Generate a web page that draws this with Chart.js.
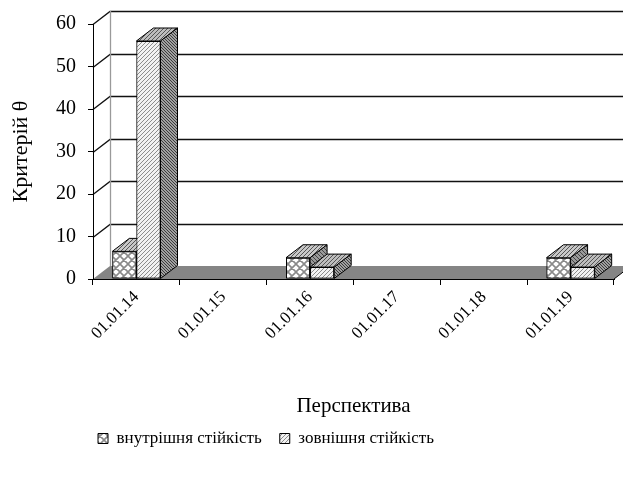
<!DOCTYPE html>
<html>
<head>
<meta charset="utf-8">
<script src="https://cdn.jsdelivr.net/npm/chart.js@4.4.1/dist/chart.umd.min.js"></script>
<style>
  html, body { margin: 0; padding: 0; background: #fff; }
  #wrap { width: 623px; height: 495px; }
</style>
</head>
<body>
<div id="wrap"><canvas id="chart"></canvas></div>
<script>
const categories = ['01.01.14', '01.01.15', '01.01.16', '01.01.17', '01.01.18', '01.01.19'];
const innerValues = [6.5, 0, 5, 0, 0, 5];
const outerValues = [56, 0, 2.8, 0, 0, 2.8];
const yTicks = [0, 10, 20, 30, 40, 50, 60];
const seriesNames = ['внутрішня стійкість', 'зовнішня стійкість'];

const serif = "'Liberation Serif', 'Times New Roman', serif";
Chart.defaults.font.family = serif;
Chart.defaults.color = '#000';
const DX = 17, DY = -13; // depth offset of the 3d box
const PAD_BOTTOM = 38;

function pattern(size, bg, stroke, width, dirs) {
  const c = document.createElement('canvas');
  c.width = c.height = size;
  const g = c.getContext('2d');
  g.fillStyle = bg;
  g.fillRect(0, 0, size, size);
  g.strokeStyle = stroke;
  g.lineWidth = width;
  g.beginPath();
  for (const k of [-size, 0, size]) {
    if (dirs.includes('/')) { g.moveTo(k, size); g.lineTo(k + size, 0); }
    if (dirs.includes('\\')) { g.moveTo(k, 0); g.lineTo(k + size, size); }
  }
  g.stroke();
  return g.createPattern(c, 'repeat');
}

const faces = [
  { // внутрішня
    front: pattern(8, '#ffffff', '#8a8a8a', 1.6, '/\\'),
    top: pattern(4, '#c8c8c8', '#555555', 1, '/'),
    side: pattern(4, '#9a9a9a', '#444444', 1, '\\')
  },
  { // зовнішня
    front: pattern(4, '#f2f2f2', '#8c8c8c', 1, '/'),
    top: pattern(4, '#bdbdbd', '#555555', 1, '/'),
    side: pattern(3, '#a0a0a0', '#3c3c3c', 1, '\\')
  }
];

function poly(ctx, pts, fill) {
  ctx.beginPath();
  ctx.moveTo(pts[0][0], pts[0][1]);
  for (let i = 1; i < pts.length; i++) ctx.lineTo(pts[i][0], pts[i][1]);
  ctx.closePath();
  ctx.fillStyle = fill;
  ctx.fill();
  ctx.strokeStyle = '#000';
  ctx.lineWidth = 1;
  ctx.stroke();
}

const walls = {
  id: 'walls',
  afterLayout(chart) {
    // legend sits a bit left of the page centre
    if (chart.legend) { chart.legend.left -= 41; chart.legend.right -= 41; }
  },
  beforeDraw(chart) {
    const { ctx, chartArea: a, scales: { y } } = chart;
    ctx.save();
    const y0 = y.getPixelForValue(0);
    // floor
    ctx.fillStyle = '#858585';
    ctx.beginPath();
    ctx.moveTo(a.left, y0);
    ctx.lineTo(a.right, y0);
    ctx.lineTo(a.right + DX, y0 + DY);
    ctx.lineTo(a.left + DX, y0 + DY);
    ctx.closePath();
    ctx.fill();
    ctx.strokeStyle = '#000';
    ctx.lineWidth = 1;
    ctx.beginPath();
    ctx.moveTo(a.right, y0);
    ctx.lineTo(a.right + DX, y0 + DY);
    ctx.stroke();
    // gridlines on the back and side walls
    ctx.strokeStyle = '#111';
    ctx.lineWidth = 1.3;
    yTicks.forEach(v => {
      if (v === 0) return;
      const py = Math.round(y.getPixelForValue(v)) + 0.5;
      ctx.beginPath();
      ctx.moveTo(a.left, py);
      ctx.lineTo(a.left + DX, py + DY);
      ctx.lineTo(chart.width + 5, py + DY);
      ctx.stroke();
    });
    ctx.strokeStyle = '#9a9a9a';
    ctx.beginPath();
    ctx.moveTo(a.left + DX + 0.5, a.top + DY);
    ctx.lineTo(a.left + DX + 0.5, y0 + DY);
    ctx.stroke();
    ctx.restore();
  },
  // redraw the boxes category by category so the right bar hides the left bar's side
  afterDatasetsDraw(chart) {
    const { ctx } = chart;
    ctx.save();
    categories.forEach((c, i) => {
      chart.data.datasets.forEach((ds, d) => {
        const v = ds.data[i];
        if (!v) return;
        const bar = chart.getDatasetMeta(d).data[i];
        const f = faces[d];
        bar.draw(ctx, chart.chartArea);
        const { x, y, base, width } = bar.getProps(['x', 'y', 'base', 'width'], true);
        const x0 = x - width / 2, x1 = x + width / 2;
        poly(ctx, [[x0, y], [x1, y], [x1 + DX, y + DY], [x0 + DX, y + DY]], f.top);
        poly(ctx, [[x1, y], [x1 + DX, y + DY], [x1 + DX, base + DY], [x1, base]], f.side);
      });
    });
    ctx.restore();
  }
};

new Chart(document.getElementById('chart'), {
  type: 'bar',
  data: {
    labels: categories,
    datasets: [
      { label: seriesNames[0], data: innerValues, backgroundColor: faces[0].front, borderColor: '#000', borderWidth: 1, borderSkipped: false },
      { label: seriesNames[1], data: outerValues, backgroundColor: faces[1].front, borderColor: '#000', borderWidth: 1, borderSkipped: false }
    ]
  },
  options: {
    responsive: true,
    maintainAspectRatio: false,
    animation: false,
    layout: { padding: { top: 19, right: 9, left: 0, bottom: PAD_BOTTOM } },
    datasets: { bar: { barPercentage: 1, categoryPercentage: 0.555 } },
    plugins: {
      legend: {
        position: 'bottom',
        labels: {
          color: '#000',
          font: { family: serif, size: 17 },
          boxWidth: 10,
          boxHeight: 10,
          padding: 18
        }
      },
      tooltip: { enabled: false }
    },
    scales: {
      x: {
        grid: { offset: true, drawOnChartArea: false, color: '#000', tickLength: 6 },
        border: { color: '#000' },
        ticks: { color: '#000', font: { family: serif, size: 17 }, minRotation: 45, maxRotation: 45, padding: 2 },
        title: { display: true, text: 'Перспектива', color: '#000', font: { family: serif, size: 21 }, padding: { top: 10, bottom: -7 } },
        afterFit(s) {
          const lg = s.chart.legend ? s.chart.legend.height : 0;
          s.height = s.chart.height - 279 - lg - PAD_BOTTOM;
        }
      },
      y: {
        min: 0,
        max: 60,
        afterBuildTicks(s) { s.ticks = yTicks.map(v => ({ value: v })); },
        grid: { drawOnChartArea: false, color: '#000', tickLength: 5 },
        border: { color: '#000' },
        ticks: { color: '#000', font: { family: serif, size: 20 }, padding: 12 },
        title: { display: true, text: 'Критерій θ', color: '#000', font: { family: serif, size: 22 }, padding: { top: 8, bottom: 0 } },
        afterFit(s) { s.width = 93; }
      }
    }
  },
  plugins: [walls]
});
</script>
</body>
</html>
